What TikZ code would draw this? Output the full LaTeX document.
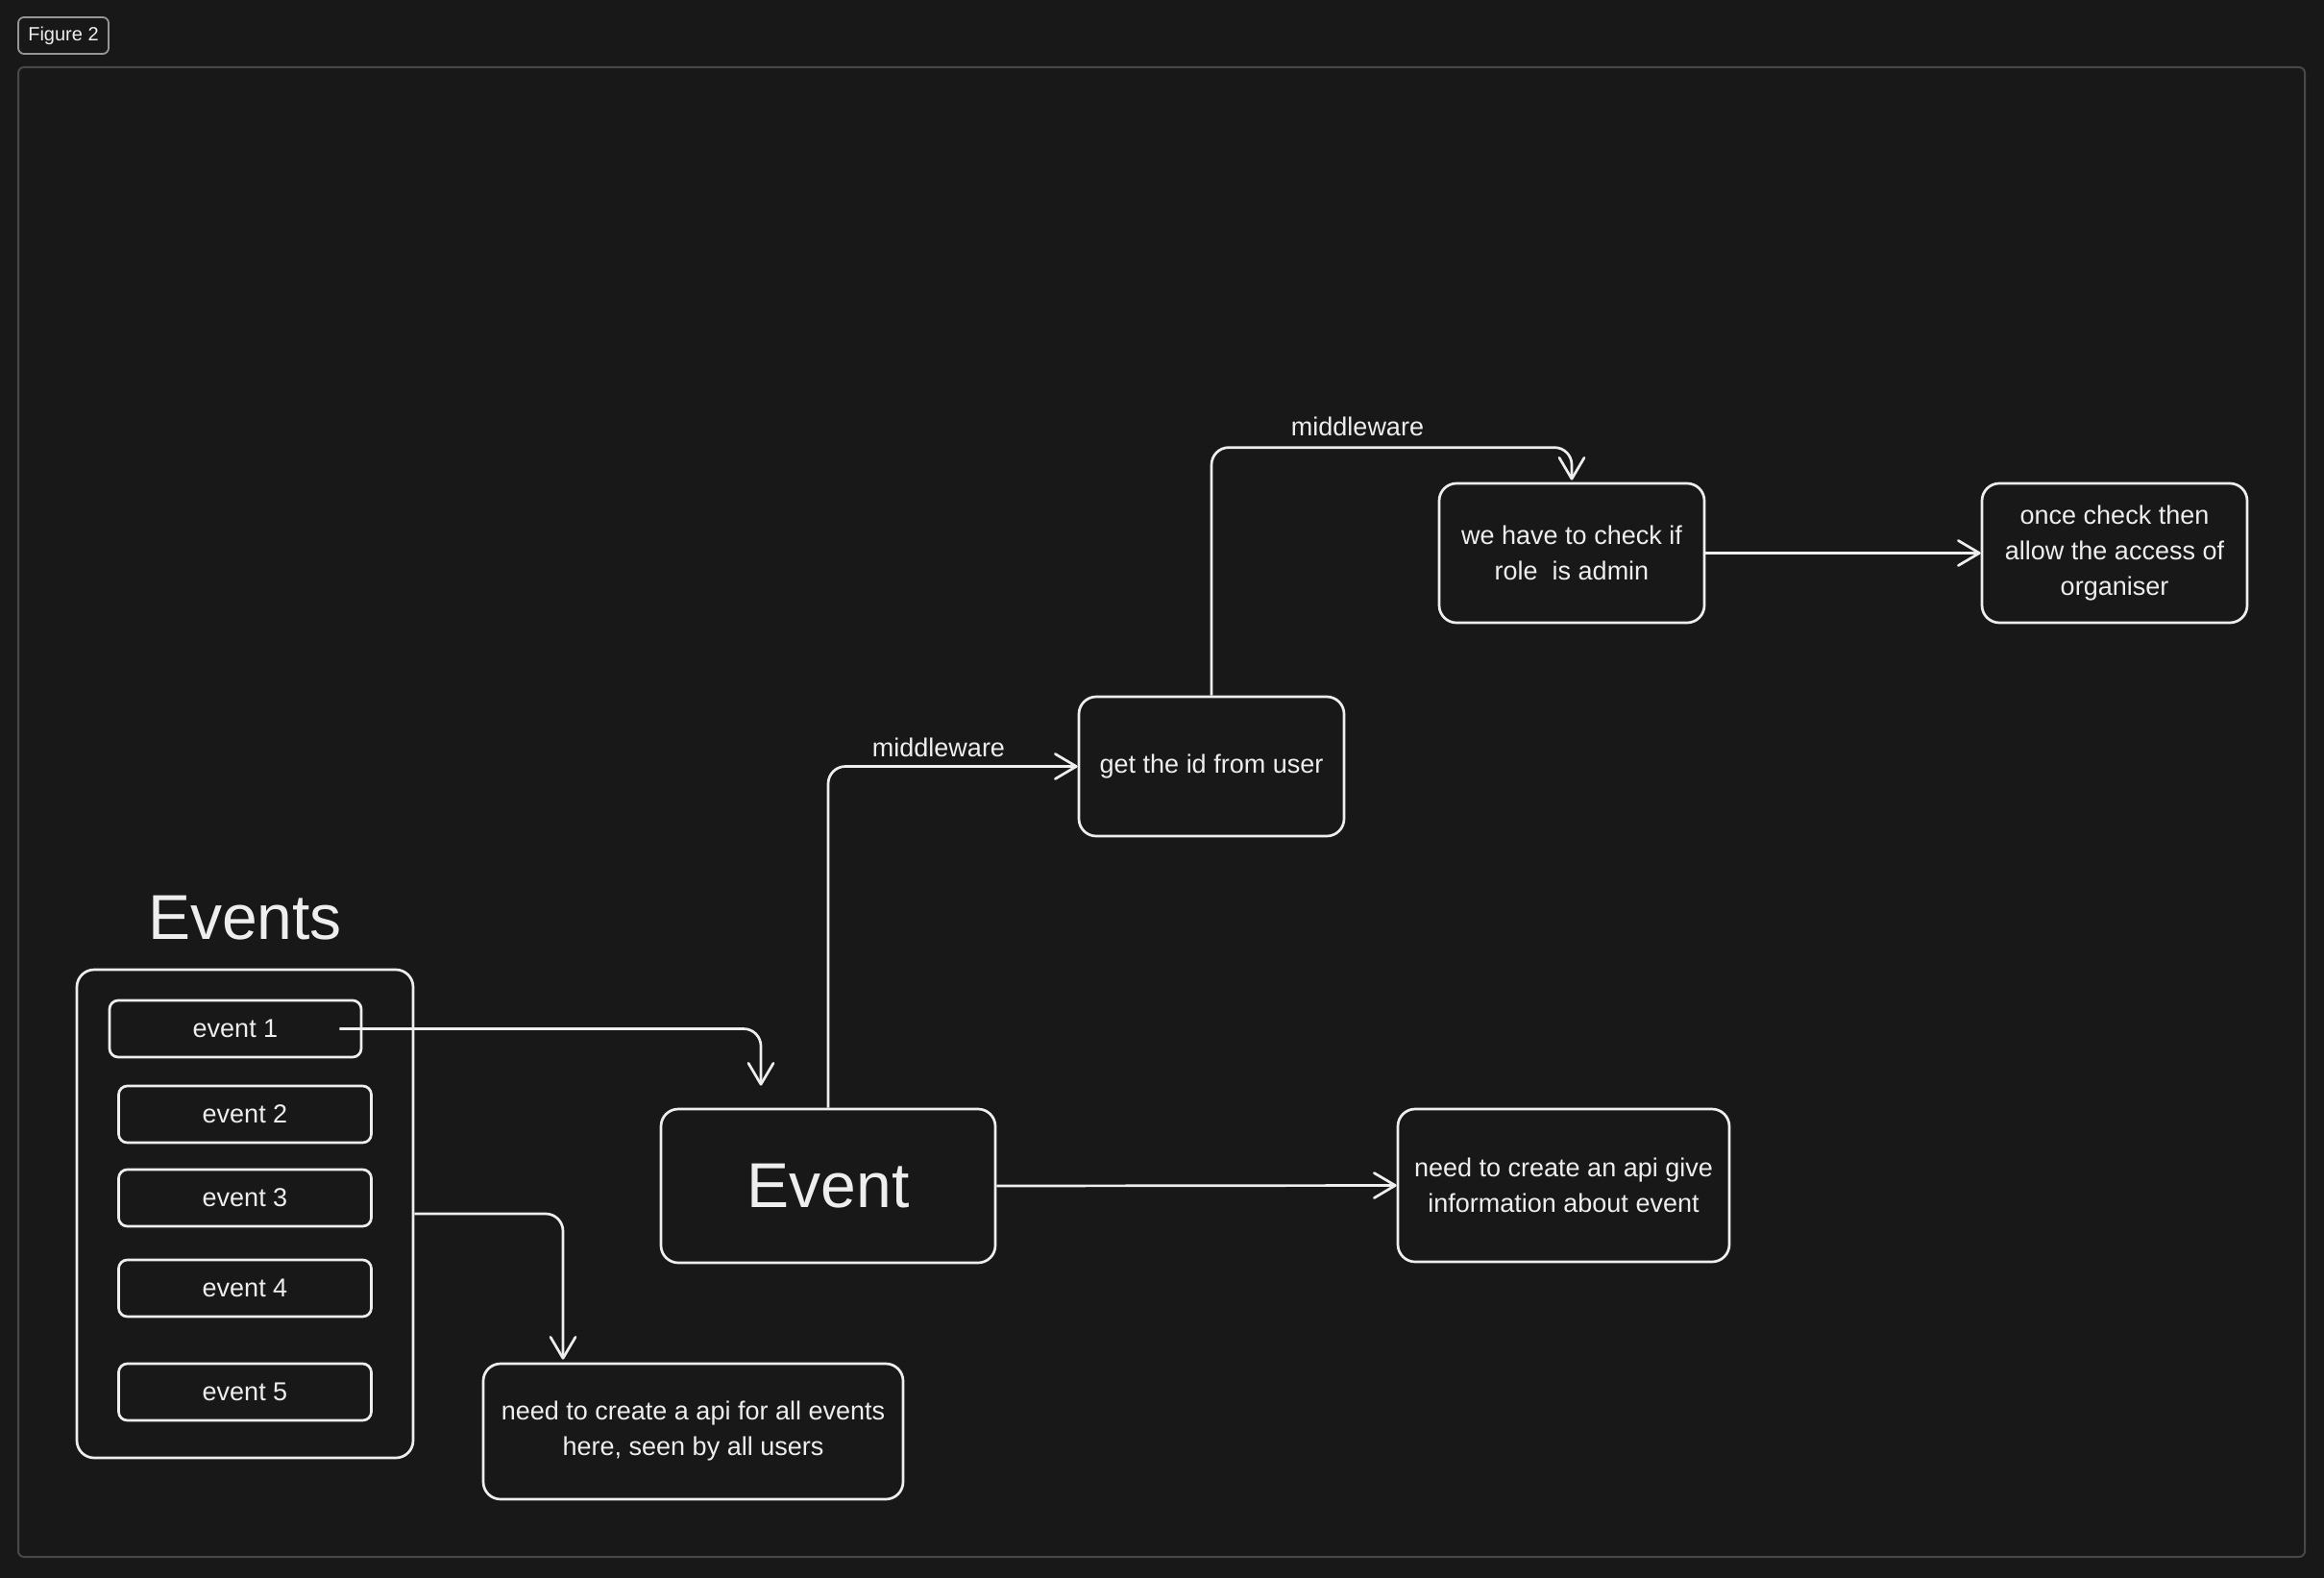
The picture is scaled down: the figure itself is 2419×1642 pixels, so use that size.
\documentclass[tikz,border=0pt]{standalone}
\usepackage{fontspec}
\setmainfont{Liberation Sans}
\usetikzlibrary{arrows.meta}
\definecolor{bg}{RGB}{24,24,24}
\definecolor{fg}{RGB}{238,238,238}
\definecolor{framec}{RGB}{72,72,72}
\definecolor{figc}{RGB}{150,150,150}
\begin{document}
\begin{tikzpicture}[x=0.5pt,y=-0.5pt,
 box/.style={draw=fg, line width=1.35pt, rounded corners=4.5pt, inner sep=0pt, align=center, text=fg, font=\fontsize{13.5}{18.5}\selectfont},
 bigbox/.style={box, rounded corners=9pt},
 conn/.style={draw=fg, line width=1.35pt, rounded corners=9pt, -{Straight Barb[length=11pt,width=13pt,round]}},
 lbl/.style={text=fg, font=\fontsize{13.5}{16}\selectfont, inner sep=0pt}]
\fill[bg] (0,0) rectangle (2419,1642);
\useasboundingbox (0,0) rectangle (2419,1642);
\draw[framec, line width=1pt, rounded corners=3pt] (19,70) rectangle (2399,1620);
\node[draw=figc, line width=0.9pt, rounded corners=3pt, minimum width=47pt, minimum height=19pt, inner sep=0pt, text=fg, font=\fontsize{10}{12}\selectfont] (fig) at (66,37) {Figure 2};

\node[text=fg, font=\fontsize{33}{40}\selectfont] (title) at (255,955) {Events};
\node[bigbox, minimum width=175pt, minimum height=254pt] (cont) at (255,1263) {};
\node[box, minimum width=131pt, minimum height=29.5pt] (ev1) at (245,1070.5) {event 1};
\node[box, minimum width=131.5pt, minimum height=29.5pt] (ev2) at (255,1159.5) {event 2};
\node[box, minimum width=131.5pt, minimum height=29.5pt] (ev3) at (255,1246.5) {event 3};
\node[box, minimum width=131.5pt, minimum height=29.5pt] (ev4) at (255,1340.5) {event 4};
\node[box, minimum width=131.5pt, minimum height=29.5pt] (ev5) at (255,1448.5) {event 5};

\node[bigbox, minimum width=174pt, minimum height=80pt, font=\fontsize{33}{40}\selectfont] (event) at (862,1234) {Event};
\node[bigbox, minimum width=218.5pt, minimum height=70.5pt] (apiall) at (721.5,1489.5) {need to create a api for all events\\here, seen by all users};
\node[bigbox, minimum width=138pt, minimum height=72.5pt] (getid) at (1261,797.5) {get the id from user};
\node[bigbox, minimum width=138pt, minimum height=72.5pt] (admin) at (1636,575.5) {we have to check if\\role\ \ is admin};
\node[bigbox, minimum width=138pt, minimum height=72.5pt] (once) at (2201,575.5) {once check then\\allow the access of\\organiser};
\node[bigbox, minimum width=172.5pt, minimum height=79.5pt] (apiinfo) at (1627.5,1233.5) {need to create an api give\\information about event};

\draw[conn] ([xshift=-12pt]ev1.east) -| ([xshift=-35pt,yshift=11.5pt]event.north);
\draw[conn] (cont.east) -| ([xshift=-67.75pt,yshift=1.5pt]apiall.north);
\draw[conn] (event.north) |- (getid.west);
\draw[conn] (getid.north) -- ++(0,-258) -| ([yshift=1pt]admin.north);
\draw[conn] (admin.east) -- (once.west);
\draw[conn] (event.east) -- (apiinfo.west);

\node[lbl] (mw1) at (977,778) {middleware};
\node[lbl] (mw2) at (1413,444) {middleware};
\end{tikzpicture}
\end{document}
